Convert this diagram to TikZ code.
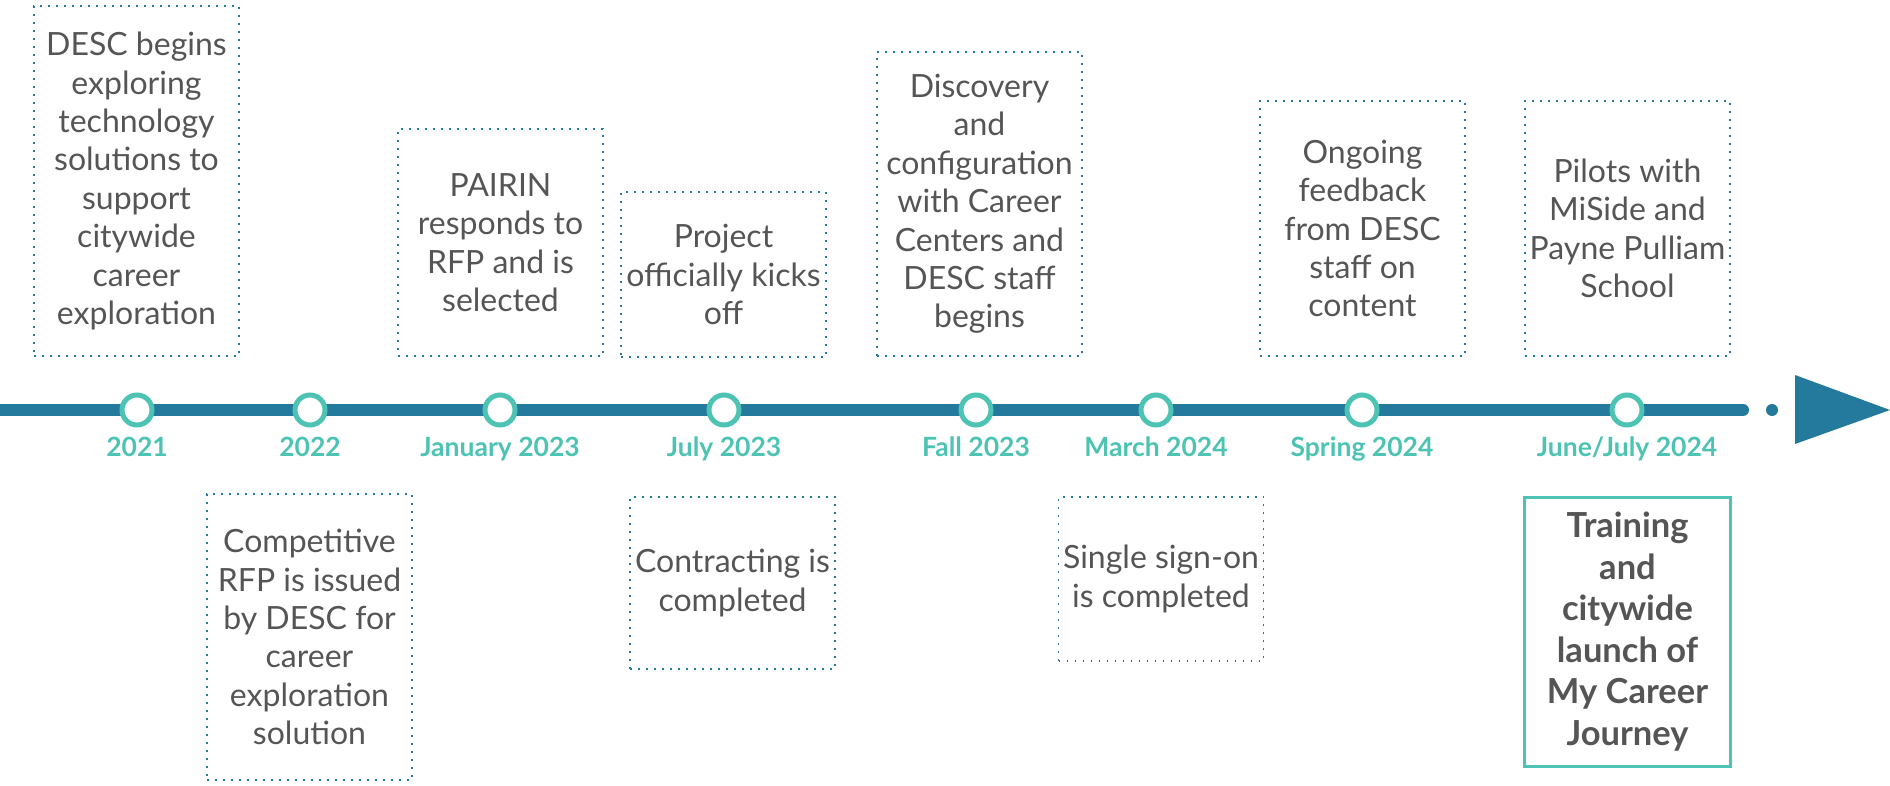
\documentclass[tikz,border=0pt]{standalone}
\usepackage{fontspec}
\setmainfont{Lato}
\usepackage{xcolor}
\definecolor{track-blue}{HTML}{237A9C}
\definecolor{mark-teal}{HTML}{4DC3B3}
\definecolor{copy-gray}{HTML}{555555}

\begin{document}
\begin{tikzpicture}[x=1pt, y=-1pt,
    every node/.style={text=copy-gray, align=center},
    milestone/.style={draw=mark-teal, line width=5pt, circle, fill=white,
      minimum size=30pt, inner sep=0},
    datelabel/.style={text=mark-teal, anchor=base,
      font=\fontsize{26.5}{31}\selectfont\bfseries},
    eventbox/.style={draw=track-blue, line width=1.8pt,
      dash pattern=on 1.8pt off 6.2pt, minimum width=205pt, inner sep=0,
      font=\fontsize{32}{38.4}\selectfont},
    launchbox/.style={draw=mark-teal, line width=3pt, minimum width=206pt,
      inner sep=0, font=\fontsize{34.5}{41.5}\selectfont\bfseries}]
    \useasboundingbox (0,0) rectangle (1890,785);

    % the track
    \coordinate (trackStart) at (-10,410);
    \coordinate (trackEnd) at (1743,410);
    \draw[track-blue, line width=12pt, line cap=round] (trackStart) -- (trackEnd);
    \fill[track-blue] (1772,410) circle (6pt);
    \fill[track-blue] (1795,375) -- (1890,410) -- (1795,444) -- cycle;

    % milestones and dates
    \node[milestone] (m21) at (137,410) {};
    \node[milestone] (m22) at (310,410) {};
    \node[milestone] (mJan23) at (500,410) {};
    \node[milestone] (mJul23) at (724,410) {};
    \node[milestone] (mFall23) at (976,410) {};
    \node[milestone] (mMar24) at (1156,410) {};
    \node[milestone] (mSpr24) at (1362,410) {};
    \node[milestone] (mJun24) at (1627,410) {};
    \node[datelabel] (d21) at (137,456) {2021};
    \node[datelabel] (d22) at (310,456) {2022};
    \node[datelabel] (dJan23) at (500,456) {January 2023};
    \node[datelabel] (dJul23) at (724,456) {July 2023};
    \node[datelabel] (dFall23) at (976,456) {Fall 2023};
    \node[datelabel] (dMar24) at (1156,456) {March 2024};
    \node[datelabel] (dSpr24) at (1362,456) {Spring 2024};
    \node[datelabel] (dJun24) at (1627,456) {June/July 2024};

    % events above the track
    \node[eventbox, minimum height=350pt] (e21) at (136.5,181)
      {DESC begins\\exploring\\technology\\solutions to\\support\\citywide\\career\\exploration};
    \node[eventbox, minimum height=227pt] (eJan23) at (500.5,242.5)
      {PAIRIN\\responds to\\RFP and is\\selected};
    \node[eventbox, minimum height=165pt] (eJul23) at (723.5,274.5)
      {Project\\officially kicks\\off};
    \node[eventbox, minimum height=304pt] (eFall23) at (979.5,204)
      {Discovery\\and\\configuration\\with Career\\Centers and\\DESC staff\\begins};
    \node[eventbox, minimum height=255pt] (eSpr24) at (1362.5,228.5)
      {Ongoing\\feedback\\from DESC\\staff on\\content};
    \node[eventbox, minimum height=255pt] (eJun24) at (1627.5,228.5)
      {Pilots with\\MiSide and\\Payne Pulliam\\School};

    % events below the track
    \node[eventbox, minimum height=286pt] (e22) at (309.5,637)
      {Competitive\\RFP is issued\\by DESC for\\career\\exploration\\solution};
    \node[eventbox, minimum height=172pt] (eContract) at (732.5,583)
      {Contracting is\\completed};
    \node[eventbox, minimum height=164pt] (eMar24) at (1161,579)
      {Single sign-on\\is completed};
    \node[launchbox, minimum height=269pt] (eLaunch) at (1627.5,631.5)
      {Training\\and\\citywide\\launch of\\My Career\\Journey};
\end{tikzpicture}
\end{document}
